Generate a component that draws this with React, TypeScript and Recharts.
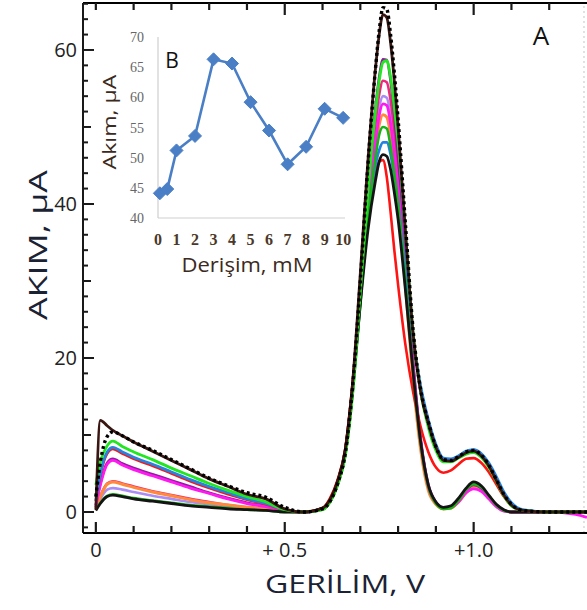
import React from 'react';
import { LineChart, Line, XAxis, YAxis, ReferenceLine } from 'recharts';

// ---------- Main chart (A) data ----------
const VOLTS = [0, 0.012, 0.03, 0.045, 0.07, 0.1, 0.15, 0.2, 0.25, 0.3, 0.35, 0.4, 0.45, 0.5, 0.55, 0.6, 0.62, 0.64, 0.66, 0.68, 0.7, 0.72, 0.74, 0.75, 0.76, 0.77, 0.78, 0.79, 0.8, 0.82, 0.84, 0.86, 0.88, 0.9, 0.92, 0.94, 0.96, 0.98, 1.0, 1.02, 1.04, 1.06, 1.08, 1.1, 1.13, 1.2, 1.27, 1.3];

const BROWN = [0.3, 11.9, 11.2, 10.6, 9.9, 9.1, 7.9, 6.7, 5.5, 4.3, 3.3, 2.3, 1.7, 0.4, 0,
  0.5, 1.6, 4.0, 8.0, 17, 31, 45.5, 57.5, 62, 64.6, 64.2, 61, 56, 50,
  36, 23, 15.5, 11.5, 8.4, 6.7, 6.6, 7.1, 7.7, 7.9, 7.3, 6.0, 4.1, 2.2, 0.9, 0.2, 0, 0, 0];
const DOTTED = [2.0, 6.5, 9.8, 10.4, 9.9, 9.1, 8.0, 6.8, 5.6, 4.4, 3.4, 2.5, 1.9, 0.6, 0,
  0.4, 1.4, 3.7, 7.6, 16.5, 30, 45, 57.5, 62.5, 65.5, 65.3, 62, 57, 51,
  37, 23.5, 15.8, 11.7, 8.5, 6.8, 6.7, 7.2, 7.8, 8.0, 7.4, 6.1, 4.2, 2.3, 1.0, 0.2, 0, 0, 0];
const GREEN = [3.5, 6.5, 8.6, 9.2, 8.5, 7.8, 6.8, 5.7, 4.7, 3.7, 2.8, 2.0, 1.3, 0.3, 0,
  0.3, 1.3, 3.5, 7.3, 15.5, 28.5, 41.5, 52, 56, 58.4, 58.6, 56.5, 52.5, 48,
  36, 23, 15.5, 11, 8.0, 6.5, 6.5, 7.0, 7.5, 7.7, 7.1, 5.8, 4.0, 2.1, 0.8, 0.2, 0, 0, 0];
const BLUE = [1.5, 5.0, 7.8, 8.4, 7.8, 7.1, 6.2, 5.2, 4.2, 3.3, 2.5, 1.7, 1.1, 0.3, 0,
  0.4, 1.5, 3.8, 7.6, 16, 27.5, 38, 45, 47, 48, 48, 46.5, 43.5, 40,
  31, 22.5, 16.3, 12, 8.8, 7.0, 6.9, 7.3, 7.9, 8.1, 7.6, 6.4, 4.6, 2.6, 1.2, 0.3, 0, 0, 0];
const RED = [1.4, 4.8, 7.6, 8.2, 7.6, 6.9, 6.0, 5.0, 4.0, 3.1, 2.3, 1.6, 1.0, 0.3, 0,
  0.5, 1.8, 4.2, 8.2, 17, 28, 38, 44, 45.5, 45.7, 43.5, 39, 34, 29.5,
  21.5, 15.5, 11, 7.8, 5.8, 5.1, 5.4, 6.2, 6.9, 7.0, 6.4, 5.2, 3.6, 2.0, 0.8, 0.2, 0, 0, 0];
const PURPLE = [0.9, 3.7, 6.4, 6.9, 6.3, 5.7, 4.9, 4.1, 3.3, 2.5, 1.8, 1.2, 0.8, 0.2, 0,
  0.4, 1.5, 3.8, 7.6, 16, 29, 42, 52.5, 56.5, 58.8, 58.7, 56, 51.5, 46,
  33, 19.5, 9.5, 3.6, 1.3, 0.6, 0.7, 1.5, 2.8, 3.5, 3.1, 2.0, 0.9, 0.2, 0, 0, 0, 0, 0];
const CRIMSON = [0.6, 2.1, 3.7, 4.0, 3.7, 3.3, 2.7, 2.2, 1.7, 1.3, 0.9, 0.6, 0.4, 0.1, 0,
  0.4, 1.5, 3.8, 7.6, 16, 28.5, 41, 50.5, 54.2, 56, 55.8, 53.5, 49.5, 44.5,
  32, 19, 9.2, 3.4, 1.2, 0.5, 0.6, 1.4, 2.7, 3.4, 3.0, 1.9, 0.8, 0.2, 0, 0, 0, 0, 0];
const LILAC = [0.5, 1.7, 2.9, 3.1, 2.9, 2.6, 2.1, 1.7, 1.3, 1.0, 0.7, 0.5, 0.3, 0.1, 0,
  0.4, 1.5, 3.8, 7.6, 16, 28, 40, 49, 52.5, 54, 53.8, 51.5, 47.5, 43,
  31, 18.5, 9, 3.3, 1.2, 0.5, 0.6, 1.4, 2.7, 3.3, 2.9, 1.9, 0.8, 0.2, 0, 0, 0, 0, 0];
const MAGENTA = [0.8, 3.5, 6.2, 6.7, 6.1, 5.5, 4.7, 3.9, 3.1, 2.4, 1.7, 1.1, 0.7, 0.2, 0,
  0.4, 1.4, 3.7, 7.5, 16, 27.5, 39.5, 48, 51.5, 53, 52.8, 50.5, 46.5, 42,
  30.5, 18.5, 9, 3.3, 1.2, 0.5, 0.6, 1.3, 2.5, 3.0, 2.7, 1.7, 0.7, 0.1, 0, 0, 0, -0.3, -0.7];
const ORANGE = [0.6, 2.0, 3.6, 3.9, 3.6, 3.2, 2.6, 2.1, 1.6, 1.2, 0.9, 0.6, 0.4, 0.1, 0,
  0.5, 1.7, 4.0, 7.9, 16.5, 28, 39, 47, 50.3, 51.6, 51.3, 49, 45, 40.5,
  29, 17, 8, 2.8, 1.0, 0.4, 0.5, 1.3, 2.5, 3.2, 2.9, 1.8, 0.8, 0.2, 0, 0, 0, 0, 0];
const GREEN2 = [0.3, 1.2, 2.1, 2.3, 2.1, 1.8, 1.5, 1.2, 0.9, 0.7, 0.5, 0.3, 0.2, 0, 0,
  0.3, 1.3, 3.5, 7.2, 15.5, 27, 38, 46, 49, 50, 49.8, 47.5, 44, 40,
  29.5, 18, 8.8, 3.3, 1.1, 0.4, 0.5, 1.5, 2.9, 3.6, 3.2, 2.1, 0.9, 0.2, 0, 0, 0, 0, 0];
const BLACK = [0.2, 1.1, 2.0, 2.2, 2.0, 1.7, 1.4, 1.1, 0.8, 0.6, 0.4, 0.3, 0.2, 0, 0,
  0.5, 1.6, 4.0, 8.0, 16.5, 27, 36.5, 43, 45.5, 46.4, 46.2, 44.5, 41.5, 38,
  28.5, 18, 9.0, 3.5, 1.3, 0.6, 0.8, 1.8, 3.1, 3.9, 3.4, 2.2, 1.0, 0.3, 0, 0, 0, 0, 0];

const X_TICKS = [0, 0.1, 0.2, 0.3, 0.4, 0.5, 0.6, 0.7, 0.8, 0.9, 1.0, 1.1, 1.2];
const X_TICK_LABELS = ['0', '', '', '', '', '+ 0.5', '', '', '', '', '+1.0', '', ''];
const Y_TICKS = [-2, 0, 2, 4, 6, 8, 10, 12, 14, 16, 18, 20, 22, 24, 26, 28, 30, 32, 34, 36, 38, 40, 42, 44, 46, 48, 50, 52, 54, 56, 58, 60, 62, 64, 66];
const Y_LABELED = [0, 20, 40, 60];
const RIGHT_FRAME_V = 1.292;

// ---------- Inset (B) data ----------
const CONC = [0.1, 0.5, 1, 2, 3, 4, 5, 6, 7, 8, 9, 10];
const PEAK_CURRENT = [44.1, 44.8, 51.2, 53.6, 66.3, 65.6, 59.2, 54.5, 48.9, 51.8, 58.1, 56.6];
const INSET_X_TICKS = [0, 1, 2, 3, 4, 5, 6, 7, 8, 9, 10];
const INSET_Y_TICKS = [40, 45, 50, 55, 60, 65, 70];

const SERIES = [
  { key: 'lilac', values: LILAC, color: '#a98cf5', width: 2.6 },
  { key: 'crimson', values: CRIMSON, color: '#f0287a', width: 2.6 },
  { key: 'orange', values: ORANGE, color: '#ff8a3c', width: 3 },
  { key: 'purple', values: PURPLE, color: '#8e1f9c', width: 2.6 },
  { key: 'magenta', values: MAGENTA, color: '#ff18f0', width: 2.8 },
  { key: 'red', values: RED, color: '#ff1414', width: 2.6 },
  { key: 'blue', values: BLUE, color: '#2383e2', width: 2.8 },
  { key: 'green2', values: GREEN2, color: '#19b419', width: 2.6 },
  { key: 'black', values: BLACK, color: '#141414', width: 2.8 },
  { key: 'green', values: GREEN, color: '#22e622', width: 2.8 },
  { key: 'brown', values: BROWN, color: '#3a1712', width: 2.8 },
  { key: 'dotted', values: DOTTED, color: '#000000', width: 3.4, dash: '3 3' },
];

const mainData = VOLTS.map((v, i) => {
  const row: Record<string, number> = { v };
  SERIES.forEach((s) => { row[s.key] = s.values[i]; });
  return row;
});

const insetData = CONC.map((c, i) => ({ c, y: PEAK_CURRENT[i] }));

const X_DOMAIN: [number, number] = [-0.034, 1.3];
const Y_DOMAIN: [number, number] = [-2.73, 66.1];
const CHART_H = 610;
const TOP_M = 3;
const X_AXIS_H = 77;
const PLOT_H = CHART_H - TOP_M - X_AXIS_H;

const FONT = "'Open Sans', 'Noto Sans', sans-serif";
const SERIF = "'Liberation Serif', 'DejaVu Serif', serif";
const TICK_COLOR = '#1a1a1a';

const xLabelFor = (v: number) => {
  const idx = X_TICKS.findIndex((t) => Math.abs(t - v) < 1e-6);
  return idx >= 0 ? X_TICK_LABELS[idx] : '';
};

// Bottom-axis tick: draws the inward tick, its mirror on the top frame, and the label.
const BottomTick = (props: any) => {
  const { x, y, payload } = props;
  const label = xLabelFor(payload.value);
  const len = label ? 11 : 7;
  const topY = y - PLOT_H;
  const topLen = label && payload.value > 0 ? 12 : 7;
  return (
    <g>
      <line x1={x} y1={y} x2={x} y2={y - len} stroke={TICK_COLOR} strokeWidth={2.2} />
      <line x1={x} y1={topY} x2={x} y2={topY + topLen} stroke={TICK_COLOR} strokeWidth={2.2} />
      {label ? (
        <text x={x} y={y + 24} textAnchor="middle" fontSize={20} fontFamily={FONT} fill="#222">
          {label}
        </text>
      ) : null}
    </g>
  );
};

const LeftTick = (props: any) => {
  const { x, y, payload } = props;
  const v = payload.value;
  const major = Y_LABELED.includes(v);
  const mid = v % 10 === 0;
  const len = major ? 11 : mid ? 8 : 5;
  return (
    <g>
      <line x1={x} y1={y} x2={x + len} y2={y} stroke={TICK_COLOR} strokeWidth={2} />
      {major ? (
        <text x={x - 6} y={y + 7} textAnchor="end" fontSize={20} fontFamily={FONT} fill="#222">
          {v}
        </text>
      ) : null}
    </g>
  );
};

const InsetXTick = (props: any) => {
  const { x, y, payload } = props;
  return (
    <text x={x} y={y + 27} textAnchor="middle" fontSize={16} fontWeight="bold" fontFamily={SERIF} fill="#4b3828">
      {payload.value}
    </text>
  );
};

const InsetYTick = (props: any) => {
  const { x, y, payload } = props;
  return (
    <text x={x - 14} y={y + 5} textAnchor="end" fontSize={14} fontFamily={SERIF} fill="#666">
      {payload.value}
    </text>
  );
};

const Diamond = (props: any) => {
  const { cx, cy } = props;
  if (cx == null || cy == null) return null;
  const r = 6.5;
  return (
    <polygon
      points={`${cx},${cy - r} ${cx + r},${cy} ${cx},${cy + r} ${cx - r},${cy}`}
      fill="#4a7fc6"
      stroke="#4a7fc6"
      strokeWidth={1}
    />
  );
};

export default function App() {
  return (
    <div style={{ position: 'absolute', left: 0, top: 0, width: 587, height: 610, background: '#fff', overflow: 'hidden' }}>
      <div style={{ position: 'absolute', left: 0, top: 0 }}>
        <LineChart width={587} height={CHART_H} data={mainData} margin={{ top: 0, right: 0, left: 0, bottom: 0 }}>
          <XAxis
            dataKey="v"
            type="number"
            domain={X_DOMAIN}
            ticks={X_TICKS}
            interval={0}
            height={X_AXIS_H}
            tickSize={0}
            tickMargin={0}
            tickLine={false}
            tick={(p: any) => <BottomTick {...p} />}
            axisLine={{ stroke: '#000', strokeWidth: 1.8 }}
            allowDataOverflow
          />
          <XAxis
            xAxisId="top"
            orientation="top"
            type="number"
            domain={X_DOMAIN}
            height={TOP_M}
            tick={false}
            tickLine={false}
            axisLine={{ stroke: '#000', strokeWidth: 1.8 }}
            allowDataOverflow
          />
          <YAxis
            type="number"
            domain={Y_DOMAIN}
            ticks={Y_TICKS}
            interval={0}
            width={83}
            tickSize={0}
            tickMargin={0}
            tickLine={false}
            tick={(p: any) => <LeftTick {...p} />}
            axisLine={{ stroke: '#000', strokeWidth: 1.8 }}
            allowDataOverflow
          />
          <ReferenceLine x={RIGHT_FRAME_V} stroke="#cfcfcf" strokeWidth={1.2} strokeDasharray="2 3" />
          {SERIES.map((s) => (
            <Line
              key={s.key}
              type="monotone"
              dataKey={s.key}
              stroke={s.color}
              strokeWidth={s.width}
              strokeDasharray={s.dash}
              dot={false}
              activeDot={false}
              isAnimationActive={false}
            />
          ))}
        </LineChart>
      </div>

      <div style={{ position: 'absolute', left: 100, top: 20 }}>
        <LineChart width={260} height={260} data={insetData} margin={{ top: 17, right: 15, left: 0, bottom: 0 }}>
          <XAxis
            dataKey="c"
            type="number"
            domain={[0, 10.1]}
            ticks={INSET_X_TICKS}
            interval={0}
            height={62}
            tickSize={0}
            tickMargin={0}
            tickLine={false}
            tick={(p: any) => <InsetXTick {...p} />}
            axisLine={{ stroke: '#cfcfcf', strokeWidth: 1.2 }}
          />
          <YAxis
            type="number"
            domain={[40, 70]}
            ticks={INSET_Y_TICKS}
            interval={0}
            width={58}
            tickSize={0}
            tickMargin={0}
            tickLine={false}
            tick={(p: any) => <InsetYTick {...p} />}
            axisLine={{ stroke: '#cfcfcf', strokeWidth: 1.2 }}
          />
          <Line
            type="linear"
            dataKey="y"
            stroke="#4a7fc6"
            strokeWidth={2.6}
            dot={(p: any) => <Diamond key={p.index} {...p} />}
            activeDot={false}
            isAnimationActive={false}
          />
        </LineChart>
      </div>

      <svg width={587} height={610} style={{ position: 'absolute', left: 0, top: 0, pointerEvents: 'none' }}>
        <text x={47} y={245} transform="rotate(-90 47 245)" textAnchor="middle" fontSize={26} fontFamily={FONT} fill="#1a2233" textLength={150} lengthAdjust="spacingAndGlyphs">
          AKIM, µA
        </text>
        <text x={345} y={593} textAnchor="middle" fontSize={25} fontFamily={FONT} fill="#1a2233" textLength={160} lengthAdjust="spacingAndGlyphs">
          GERİLİM, V
        </text>
        <text x={541} y={45} textAnchor="middle" fontSize={26} fontFamily={FONT} fill="#111">
          A
        </text>
        <text x={172} y={68} textAnchor="middle" fontSize={21} fontFamily={FONT} fill="#111">
          B
        </text>
        <text x={116} y={122} transform="rotate(-90 116 122)" textAnchor="middle" fontSize={19} fontFamily={FONT} fill="#3b2a20" textLength={95} lengthAdjust="spacingAndGlyphs">
          Akım, µA
        </text>
        <text x={247} y={272} textAnchor="middle" fontSize={20} fontFamily={FONT} fill="#3b2a20" textLength={131} lengthAdjust="spacingAndGlyphs">
          Derişim, mM
        </text>
      </svg>
    </div>
  );
}
